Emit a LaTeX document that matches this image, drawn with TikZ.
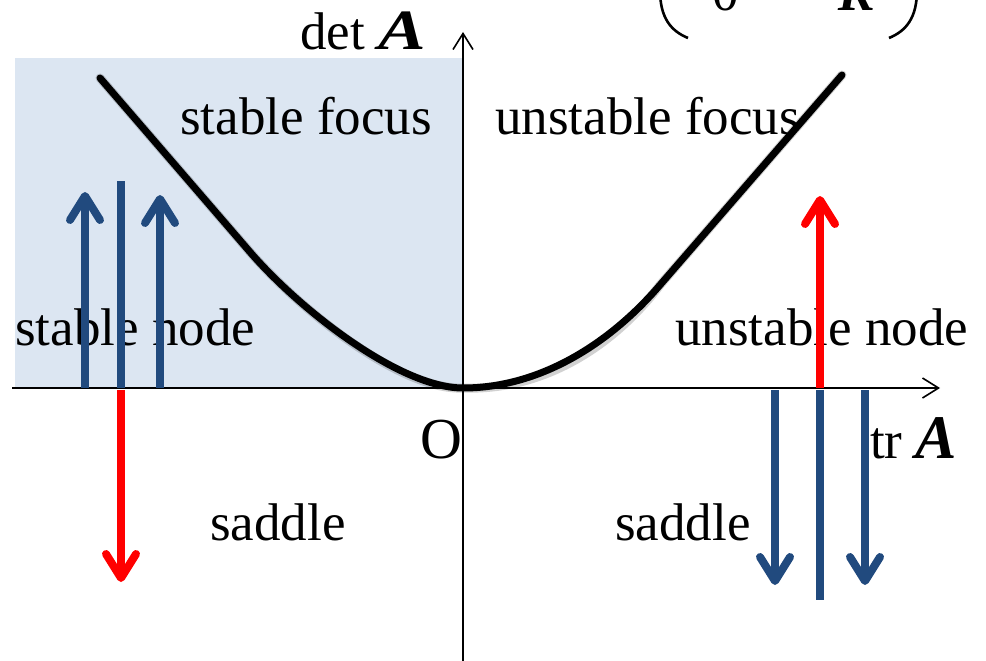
\documentclass[tikz,border=0pt]{standalone}
\usepackage{fontspec}
\setmainfont{Liberation Serif}
\usetikzlibrary{arrows.meta}
\definecolor{regionblue}{HTML}{DCE6F2}
\definecolor{darkblue}{HTML}{214A7E}
\definecolor{brightred}{HTML}{FF0000}
\tikzset{
  lbl/.style={inner sep=0pt, anchor=base west, font=\fontsize{53}{60}\selectfont},
  axis/.style={line width=1.6pt, -{Straight Barb[length=16pt,width=20pt,line width=1.6pt]}},
  upblue/.style={line width=8pt, darkblue, -{Straight Barb[round,length=24pt,width=30pt]}},
  upred/.style={line width=8pt, brightred, -{Straight Barb[round,length=24pt,width=30pt]}},
  plainblue/.style={line width=8pt, darkblue},
  curve/.style={line width=7pt, black, line cap=round},
  curveshadow/.style={line width=9pt, black, opacity=0.18, line cap=round},
}
\newcommand{\boldA}{\textbf{\textit{A}}}
\begin{document}
\begin{tikzpicture}[x=1pt,y=-1pt]
\useasboundingbox (0,0) rectangle (986,661);
\clip (0,0) rectangle (986,661);
% shaded stable region
\fill[regionblue] (15,58) rectangle (463,388);
% axes
\coordinate (xs) at (12,388);
\coordinate (xe) at (940,388);
\coordinate (ys) at (463,661);
\coordinate (ye) at (463,32);
\draw[axis] (xs) -- (xe);
\draw[axis] (ys) -- (ye);
% labels
\node[lbl] (det) at (300,50) {det {\fontsize{57}{60}\selectfont\scalebox{1.25}[1]{\boldA}}};
\node[lbl] (sf) at (180,135) {stable focus};
\node[lbl] (uf) at (495,135) {unstable focus};
\node[lbl] (sn) at (15,345) {stable node};
\node[lbl] (un) at (675,345) {unstable node};
\node[lbl] (O) at (420,458) {\fontsize{58}{60}\selectfont O};
\node[lbl] (tr) at (870,458) {tr {\fontsize{62}{60}\selectfont\boldA}};
\node[lbl] (s1) at (210,540) {saddle};
\node[lbl] (s2) at (615,540) {saddle};
% partial matrix at top right
\node[lbl] (m0) at (712,11) {0};
\node[lbl] (mK) at (838,11) {\textbf{\textit{K}}};
\draw[line width=2.6pt] (660,-10) .. controls (660,18) and (671,31) .. (688,38);
\draw[line width=2.6pt] (917,-10) .. controls (917,18) and (906,31) .. (889,38);
% boundary curve det = tr^2/4
\coordinate (c0) at (100,78);
\coordinate (c1) at (250,252);
\coordinate (v) at (463,388);
\coordinate (c2) at (660,285);
\coordinate (c3) at (842,75);
\draw[curveshadow, shift={(3,3)}] (c0) -- (c1) .. controls (300,310) and (400,388) .. (v)
  .. controls (540,388) and (610,343.5) .. (c2) -- (c3);
\draw[curve] (c0) -- (c1) .. controls (300,310) and (400,388) .. (v)
  .. controls (540,388) and (610,343.5) .. (c2) -- (c3);
% left arrows
\coordinate (la0) at (85,388); \coordinate (la1) at (85,192);
\coordinate (lm0) at (121,388); \coordinate (lm1) at (121,181);
\coordinate (lc0) at (160,388); \coordinate (lc1) at (160,195);
\coordinate (lr0) at (121,390); \coordinate (lr1) at (121,582);
\draw[upblue] (la0) -- (la1);
\draw[plainblue] (lm0) -- (lm1);
\draw[upblue] (lc0) -- (lc1);
\draw[upred] (lr0) -- (lr1);
% right arrows
\coordinate (rr0) at (820,388); \coordinate (rr1) at (820,196);
\coordinate (rm0) at (820,390); \coordinate (rm1) at (820,600);
\coordinate (ra0) at (775,390); \coordinate (ra1) at (775,585);
\coordinate (rb0) at (865,390); \coordinate (rb1) at (865,585);
\draw[upred] (rr0) -- (rr1);
\draw[plainblue] (rm0) -- (rm1);
\draw[upblue] (ra0) -- (ra1);
\draw[upblue] (rb0) -- (rb1);
\end{tikzpicture}
\end{document}
